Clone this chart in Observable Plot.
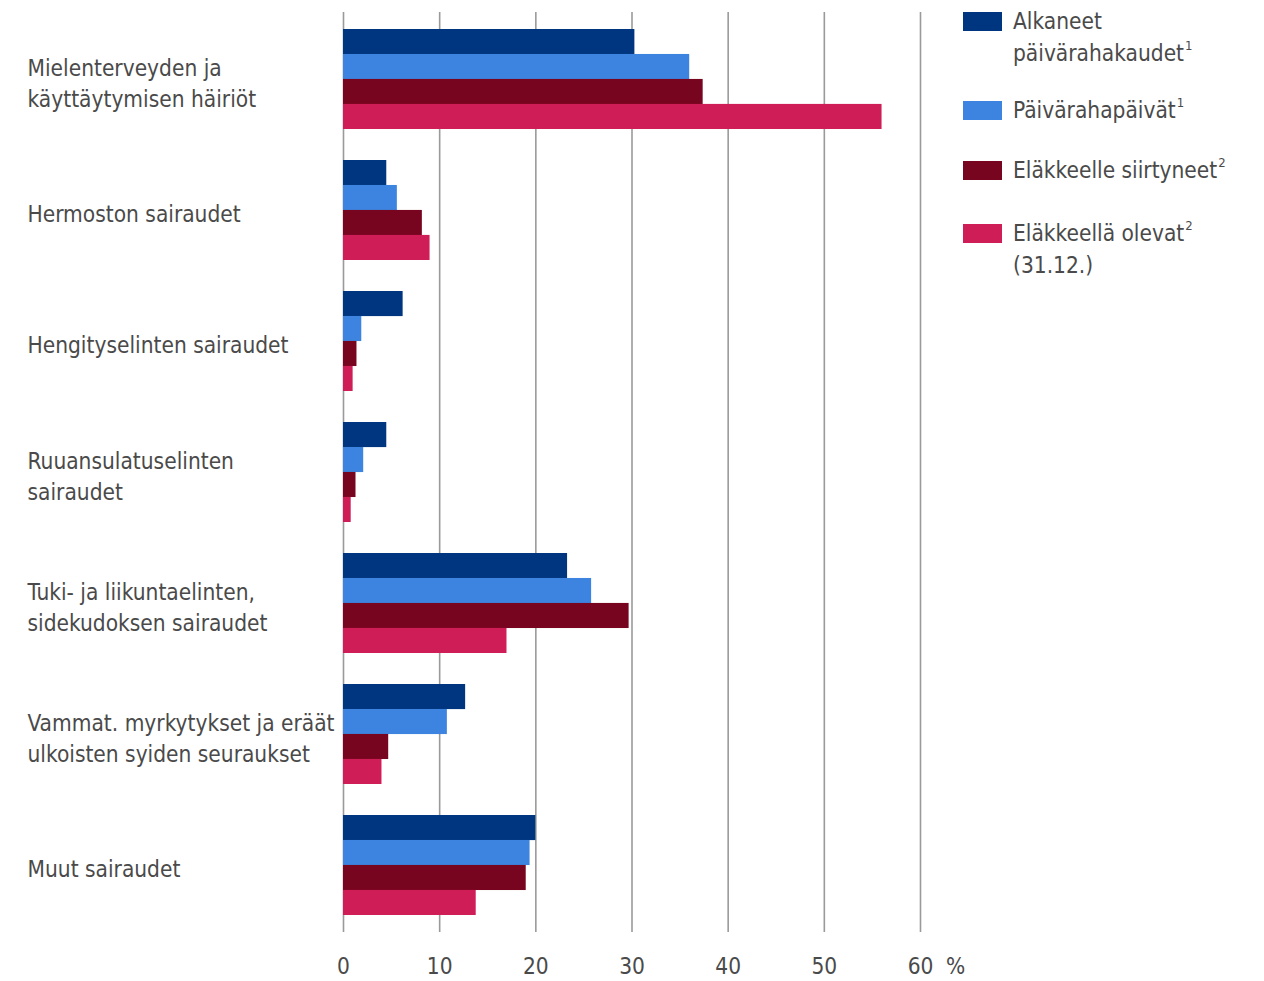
<!DOCTYPE html>
<html>
<head>
<meta charset="utf-8">
<script src="https://cdn.jsdelivr.net/npm/d3@7"></script>
<script src="https://cdn.jsdelivr.net/npm/@observablehq/plot@0.6"></script>
<style>
  html, body { margin: 0; padding: 0; background: #fff; }
  body { font-family: "Liberation Sans Narrow", "DejaVu Sans Condensed", "Roboto", sans-serif; color: #4a4a4a; }
  #wrap { position: relative; width: 1264px; height: 981px; overflow: hidden; }
  #chart { position: absolute; left: 0; top: 0; }
  #legend { position: absolute; left: 963px; top: 0; font-size: 22.5px; line-height: 32px; color: #4a4a4a; }
  .item { position: absolute; left: 0; white-space: nowrap; }
  .sw { position: absolute; left: 0; width: 39px; height: 19px; }
  .lbl { position: absolute; left: 50px; }
  .lbl sup { font-size: 13px; line-height: 0; vertical-align: 0; position: relative; top: -11px; margin-left: 1px; }
</style>
</head>
<body>
<div id="wrap">
  <div id="chart"></div>
  <div id="legend"></div>
</div>
<script>
// ---- data ----
const categories = [
  "Mielenterveyden ja\nkäyttäytymisen häiriöt",
  "Hermoston sairaudet",
  "Hengityselinten sairaudet",
  "Ruuansulatuselinten\nsairaudet",
  "Tuki- ja liikuntaelinten,\nsidekudoksen sairaudet",
  "Vammat. myrkytykset ja eräät\nulkoisten syiden seuraukset",
  "Muut sairaudet"
];
const seriesNames = [
  "Alkaneet\npäivärahakaudet",
  "Päivärahapäivät",
  "Eläkkeelle siirtyneet",
  "Eläkkeellä olevat\n(31.12.)"
];
const seriesNotes = ["1", "1", "2", "2"];
const alkaneet        = [30.3, 4.5, 6.2, 4.5, 23.3, 12.7, 20.0];
const paivarahapaivat = [36.0, 5.6, 1.9, 2.1, 25.8, 10.8, 19.4];
const siirtyneet      = [37.4, 8.2, 1.4, 1.3, 29.7, 4.7, 19.0];
const olevat          = [56.0, 9.0, 1.0, 0.8, 17.0, 4.0, 13.8];
const xTicks = [0, 10, 20, 30, 40, 50, 60];
const colors = ["#00367f", "#3c84df", "#77051f", "#cf1d57"];

// ---- layout ----
const width = 1264, height = 981;
const marginLeft = 343, marginRight = 344, marginTop = 12, marginBottom = 49;
const padInner = 0.24, padOuter = 0.12;
const step = (height - marginTop - marginBottom) / (categories.length - padInner + 2 * padOuter);
const barH = step * (1 - padInner) / seriesNames.length;

const allSeries = [alkaneet, paivarahapaivat, siirtyneet, olevat];
const rows = [];
allSeries.forEach((vals, si) => {
  vals.forEach((v, ci) => rows.push({category: categories[ci], series: si, value: v}));
});

const textColor = "#4a4a4a";
const fontFamily = '"Liberation Sans Narrow", "DejaVu Sans Condensed", Roboto, sans-serif';
const fs = 22.5;

const marks = [
  Plot.gridX(xTicks, {stroke: "#9a9a9a", strokeOpacity: 1, strokeWidth: 1.6})
];
seriesNames.forEach((name, si) => {
  marks.push(Plot.barX(rows.filter(d => d.series === si), {
    x: "value",
    y: "category",
    fill: colors[si],
    insetTop: si * barH,
    insetBottom: (seriesNames.length - 1 - si) * barH
  }));
});
marks.push(
  Plot.axisY({tickSize: 0, textAnchor: "start", dx: -307, dy: 2, fontSize: fs, lineHeight: 1.38, fill: textColor}),
  Plot.axisX(xTicks, {tickSize: 0, tickPadding: 26, fontSize: fs, fill: textColor, label: null}),
  Plot.text(["%"], {frameAnchor: "bottom-right", textAnchor: "middle", dx: 35, dy: 34, fontSize: fs, fill: textColor, lineAnchor: "middle"})
);

const chart = Plot.plot({
  width, height, marginLeft, marginRight, marginTop, marginBottom,
  style: {fontFamily, background: "white", overflow: "visible"},
  x: {domain: [0, 60], label: null},
  y: {domain: categories, paddingInner: padInner, paddingOuter: padOuter, label: null},
  marks
});
document.getElementById("chart").appendChild(chart);

// ---- legend ----
const legendTops = [5, 94, 154, 217];
const legend = document.getElementById("legend");
seriesNames.forEach((name, si) => {
  const item = document.createElement("div");
  item.className = "item";
  item.style.top = legendTops[si] + "px";
  const sw = document.createElement("div");
  sw.className = "sw";
  sw.style.background = colors[si];
  sw.style.top = "7px";
  const lbl = document.createElement("div");
  lbl.className = "lbl";
  const lines = name.split("\n");
  const noteLine = si === 3 ? 0 : lines.length - 1;
  lbl.innerHTML = lines.map((l, i) => i === noteLine ? l + "<sup>" + seriesNotes[si] + "</sup>" : l).join("<br>");
  item.appendChild(sw);
  item.appendChild(lbl);
  legend.appendChild(item);
});
</script>
</body>
</html>
